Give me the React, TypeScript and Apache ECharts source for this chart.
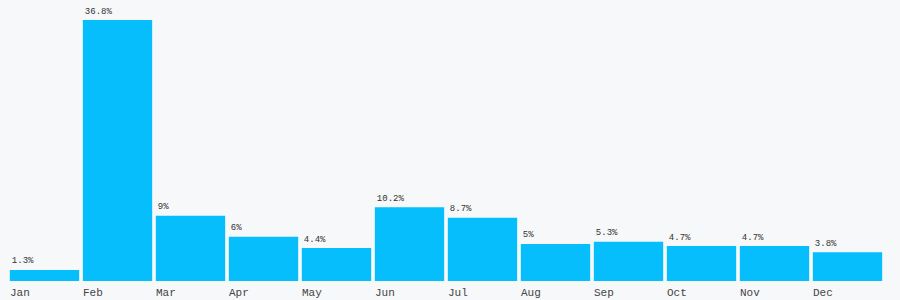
import React, { useEffect, useRef } from "react";
import * as echarts from "echarts";

const months = ["Jan", "Feb", "Mar", "Apr", "May", "Jun", "Jul", "Aug", "Sep", "Oct", "Nov", "Dec"];
const values = [1.3, 36.8, 9, 6, 4.4, 10.2, 8.7, 5, 5.3, 4.7, 4.7, 3.8];

export default function App() {
  const ref = useRef<HTMLDivElement>(null);
  useEffect(() => {
    if (!ref.current) return;
    const chart = echarts.init(ref.current, undefined, { renderer: "svg" });
    chart.setOption({
      animation: false,
      backgroundColor: "#f7f8fa",
      grid: { left: 8, right: 16, top: 20, bottom: 19, containLabel: false },
      xAxis: [
        {
          type: "category",
          data: months,
          axisLine: { show: false },
          axisTick: { show: false },
          axisLabel: { show: false },
        },
        {
          type: "category",
          position: "bottom",
          boundaryGap: false,
          data: [...months, ""],
          axisLine: { show: false },
          axisTick: { show: false },
          axisLabel: {
            interval: 0,
            align: "left",
            margin: 6,
            padding: [0, 0, 0, 2],
            fontFamily: "Liberation Mono",
            fontSize: 11,
            color: "#444",
          },
        },
      ],
      yAxis: {
        type: "value",
        min: -0.27,
        max: 36.8,
        startValue: -0.27,
        show: false,
        splitLine: { show: false },
      },
      series: [
        {
          type: "bar",
          xAxisIndex: 0,
          data: values,
          barCategoryGap: "5%",
          itemStyle: { color: "#05befb" },
          label: {
            show: true,
            position: [2, -4],
            align: "left",
            verticalAlign: "bottom",
            formatter: (p: any) => p.value + "%",
            fontFamily: "Liberation Mono",
            fontSize: 9,
            color: "#333",
          },
        },
      ],
    });
    return () => chart.dispose();
  }, []);
  return (
    <div
      ref={ref}
      style={{ position: "fixed", left: 0, top: 0, width: 900, height: 300 }}
    />
  );
}
